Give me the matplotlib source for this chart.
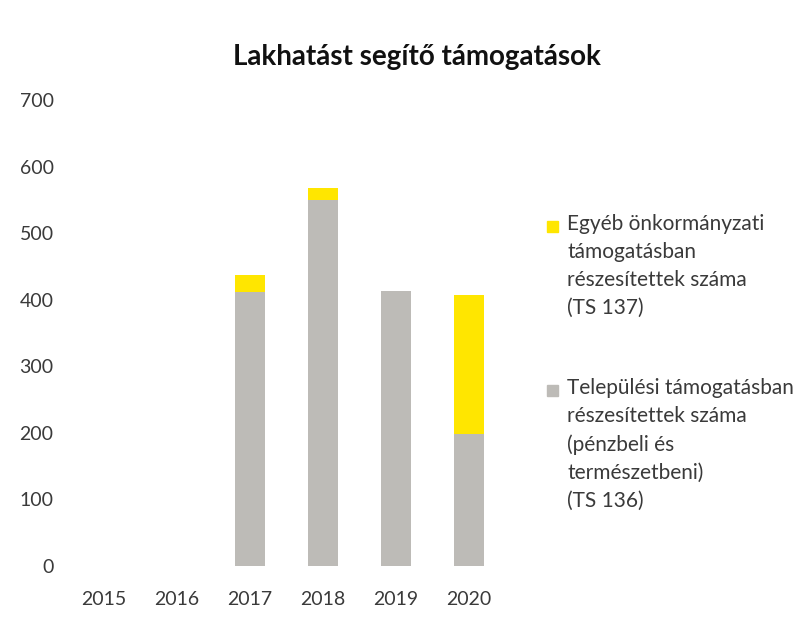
import numpy as np
import matplotlib.pyplot as plt
from matplotlib.patches import Rectangle

plt.rcParams["font.family"] = ["Lato", "DejaVu Sans"]

# data
years = ["2015", "2016", "2017", "2018", "2019", "2020"]
telepulesi = [0, 0, 411, 550, 413, 198]   # TS 136 (grey, bottom)
egyeb = [0, 0, 26, 18, 0, 209]            # TS 137 (yellow, top)

grey = "#bdbbb7"
yellow = "#ffe600"
txt = "#3a3a3a"

W, H = 811, 617
fig = plt.figure(figsize=(W / 100, H / 100), dpi=100)
ax = fig.add_axes([67.5 / W, 1 - 566 / H, 438 / W, 466 / H])

x = np.arange(len(years))
ax.bar(x, telepulesi, width=0.41, color=grey)
ax.bar(x, egyeb, width=0.41, bottom=telepulesi, color=yellow)

ax.set_xlim(-0.5, len(years) - 0.5)
ax.set_ylim(0, 700)
ax.set_yticks(range(0, 701, 100))
ax.set_xticks(x)
ax.set_xticklabels(years)
for s in ax.spines.values():
    s.set_visible(False)
ax.tick_params(length=0, labelsize=14, colors=txt)
ax.tick_params(axis="y", pad=10)
ax.tick_params(axis="x", pad=18)

fig.text(417 / W, 1 - 57 / H, "Lakhatást segítő támogatások", ha="center", va="center",
         fontsize=20, fontweight="bold", color="#111111")

# legend drawn by hand so the square sits on the first text line
labels = ["Egyéb önkormányzati\ntámogatásban\nrészesítettek száma\n(TS 137)",
          "Települési támogatásban\nrészesítettek száma\n(pénzbeli és\ntermészetbeni)\n(TS 136)"]
colors = [yellow, grey]
first_line = [226, 390]
for lab, col, yc in zip(labels, colors, first_line):
    fig.patches.append(Rectangle((547 / W, 1 - (yc + 6) / H), 11 / W, 11 / H,
                                 transform=fig.transFigure, color=col))
    fig.text(567 / W, 1 - (yc - 12) / H, lab, ha="left", va="top",
             fontsize=15, color=txt, linespacing=1.5)

fig.savefig("out.png", dpi=100)
